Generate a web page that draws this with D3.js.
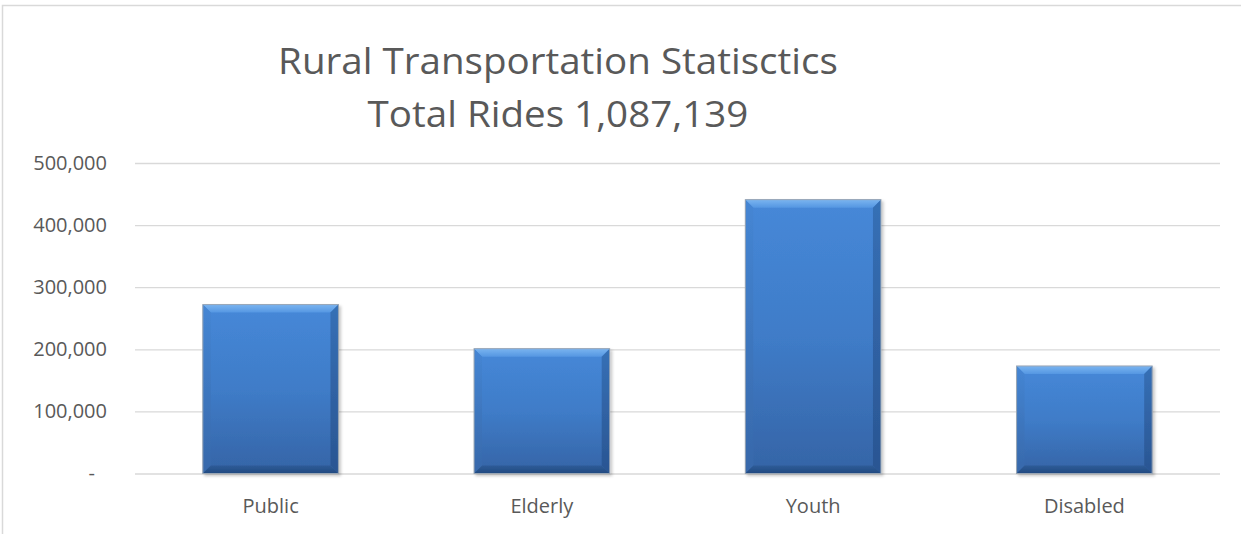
<!DOCTYPE html>
<html lang="en">
<head>
  <meta charset="UTF-8">
  <title>Rural Transportation Statisctics</title>
  <style>
    body { margin: 0; background: #fff; }
    svg { display: block; font-family: "Open Sans", "Noto Sans", sans-serif; }
  </style>
</head>
<body>
  <svg id="chart" width="1241" height="534"></svg>
  <script src="https://cdn.jsdelivr.net/npm/d3@7"></script>
  <script>
    // data
    const categories = ['Public', 'Elderly', 'Youth', 'Disabled'];
    const rides = [272000, 201000, 441000, 173139];
    const yTicks = [0, 100000, 200000, 300000, 400000, 500000];
    const titleLines = ['Rural Transportation Statisctics', 'Total Rides 1,087,139'];

    const svg = d3.select('#chart');
    const plotL = 135, plotR = 1220, plotT = 163, plotB = 473.5;

    const x = d3.scaleBand().domain(categories).range([plotL, plotR])
      .paddingInner(0.5).paddingOuter(0.25);
    const y = d3.scaleLinear().domain([0, 500000]).range([plotB, plotT]);

    // gradients for the bevelled bars
    const defs = svg.append('defs');
    function grad(id, stops) {
      const g = defs.append('linearGradient').attr('id', id)
        .attr('x1', 0).attr('y1', 0).attr('x2', 0).attr('y2', 1);
      stops.forEach(s => g.append('stop').attr('offset', s[0]).attr('stop-color', s[1]));
    }
    grad('face', [[0, '#4688d8'], [0.5, '#3f7cc8'], [1, '#3564a6']]);
    grad('topEdge', [[0, '#7ab4f0'], [1, '#5597e2']]);
    grad('leftEdge', [[0, '#4586d4'], [1, '#3768aa']]);
    grad('rightEdge', [[0, '#3670b6'], [1, '#2a5592']]);
    grad('bottomEdge', [[0, '#2e5c98'], [1, '#224a80']]);
    const f = defs.append('filter').attr('id', 'shadow')
      .attr('x', '-10%').attr('y', '-10%').attr('width', '130%').attr('height', '130%');
    f.append('feDropShadow').attr('dx', 2).attr('dy', 2).attr('stdDeviation', 1.5)
      .attr('flood-color', '#000').attr('flood-opacity', 0.22);

    // chart border
    svg.append('rect').attr('x', 2.5).attr('y', 5.5).attr('width', 1300).attr('height', 700)
      .attr('fill', 'none').attr('stroke', '#d9d9d9').attr('stroke-width', 1.5);

    // gridlines + y labels
    const yAxis = d3.axisLeft(y).tickValues(yTicks)
      .tickSize(-(plotR - plotL)).tickPadding(28)
      .tickFormat(d => d === 0 ? '-' : d3.format(',')(d));
    const ya = svg.append('g').attr('transform', `translate(${plotL},0)`).call(yAxis);
    ya.select('.domain').remove();
    ya.selectAll('line').attr('stroke', '#d9d9d9').attr('stroke-width', 1.3);
    ya.selectAll('text').attr('fill', '#595959').attr('font-size', 20)
      .attr('font-family', '"Open Sans", sans-serif');
    // accounting-style dash sits in from the right edge
    ya.selectAll('.tick').filter(d => d === 0).select('text').attr('dx', -12);

    // x labels
    const xAxis = d3.axisBottom(x).tickSize(0).tickPadding(25);
    const xa = svg.append('g').attr('transform', `translate(0,${plotB})`).call(xAxis);
    xa.select('.domain').remove();
    xa.selectAll('text').attr('fill', '#595959').attr('font-size', 20)
      .attr('font-family', '"Open Sans", sans-serif');

    // bevelled bars
    const b = 8;
    const bars = svg.append('g').selectAll('g').data(categories).join('g')
      .attr('filter', 'url(#shadow)');
    bars.each(function (c, i) {
      const g = d3.select(this);
      const x0 = x(c), x1 = x(c) + x.bandwidth();
      const y0 = y(rides[i]), y1 = y(0);
      const pts = a => a.map(p => p.join(',')).join(' ');
      g.append('rect').attr('x', x0).attr('y', y0).attr('width', x1 - x0).attr('height', y1 - y0)
        .attr('fill', 'url(#face)');
      g.append('polygon').attr('points', pts([[x0, y0], [x1, y0], [x1 - b, y0 + b], [x0 + b, y0 + b]]))
        .attr('fill', 'url(#topEdge)');
      g.append('polygon').attr('points', pts([[x0, y0], [x0 + b, y0 + b], [x0 + b, y1 - b], [x0, y1]]))
        .attr('fill', 'url(#leftEdge)');
      g.append('polygon').attr('points', pts([[x1, y0], [x1 - b, y0 + b], [x1 - b, y1 - b], [x1, y1]]))
        .attr('fill', 'url(#rightEdge)');
      g.append('polygon').attr('points', pts([[x0, y1], [x0 + b, y1 - b], [x1 - b, y1 - b], [x1, y1]]))
        .attr('fill', 'url(#bottomEdge)');
      g.append('rect').attr('x', x0).attr('y', y0).attr('width', x1 - x0).attr('height', y1 - y0)
        .attr('fill', 'none').attr('stroke', '#9aa6b4').attr('stroke-width', 1);
    });

    // title, squeezed a little to the narrower look of the original face
    const title = svg.append('g');
    titleLines.forEach((t, i) => {
      title.append('text').attr('x', 558).attr('y', 74 + i * 53)
        .attr('text-anchor', 'middle').attr('fill', '#595959')
        .attr('font-size', 37).text(t);
    });
    const w = title.select('text').node().getComputedTextLength();
    const k = 560 / w;
    title.attr('transform', `translate(${558 * (1 - k)},0) scale(${k},1)`);
  </script>
</body>
</html>
